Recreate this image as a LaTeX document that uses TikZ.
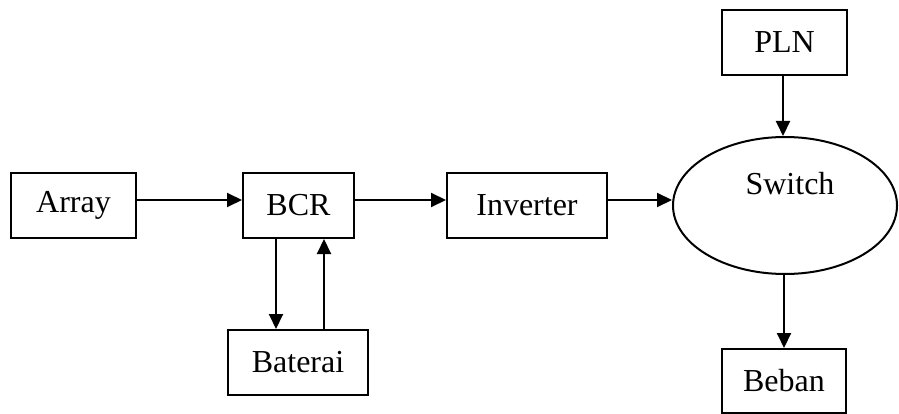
\documentclass[tikz,border=0pt]{standalone}
\usepackage{fontspec}
\setmainfont{Liberation Serif}
\usetikzlibrary{arrows.meta,shapes.geometric,calc}
\begin{document}
\begin{tikzpicture}[x=1pt,y=-1pt,
  every node/.style={font=\fontsize{32}{36}\selectfont},
  blk/.style={draw,line width=2pt,rectangle,inner sep=0pt,minimum height=65pt},
  arr/.style={line width=2pt,-{Triangle[length=15pt,width=14pt]}}]
\useasboundingbox (0,0) rectangle (899,414);
\node[blk,minimum width=125pt] (array) at (73.5,205.5) {Array};
\node[blk,minimum width=111pt] (bcr) at (298.5,205.5) {BCR};
\node[blk,minimum width=160pt] (inv) at (527,205.5) {Inverter};
\node[blk,minimum width=140pt] (bat) at (298,362.5) {Baterai};
\node[blk,minimum width=125pt] (pln) at (784.5,42.5) {PLN};
\node[blk,minimum width=124pt,minimum height=64pt] (beban) at (784,381) {Beban};
\node[draw,ellipse,line width=2pt,inner sep=0pt,minimum width=224pt,minimum height=137pt] (sw) at (785,205.5) {};
\node[anchor=base] (swt) at (790,194) {Switch};
\draw[arr] ([yshift=5.5pt]array.east) -- ([yshift=5.5pt]bcr.west);
\draw[arr] ([yshift=5.5pt]bcr.east) -- ([yshift=5.5pt]inv.west);
\draw[arr] ([yshift=5.5pt]inv.east) -- ([yshift=5.5pt]sw.west);
\draw[arr] ([xshift=-22.5pt]bcr.south) -- ([xshift=-22.5pt]bcr.south |- bat.north);
\draw[arr] ([xshift=26pt]bat.north) -- ([xshift=26pt]bat.north |- bcr.south);
\draw[arr] ([xshift=-1.5pt]pln.south) -- ([xshift=-1.5pt]pln.south |- sw.north);
\draw[arr] ([xshift=-1pt]sw.south) -- ([xshift=-1pt]sw.south |- beban.north);
\end{tikzpicture}
\end{document}
